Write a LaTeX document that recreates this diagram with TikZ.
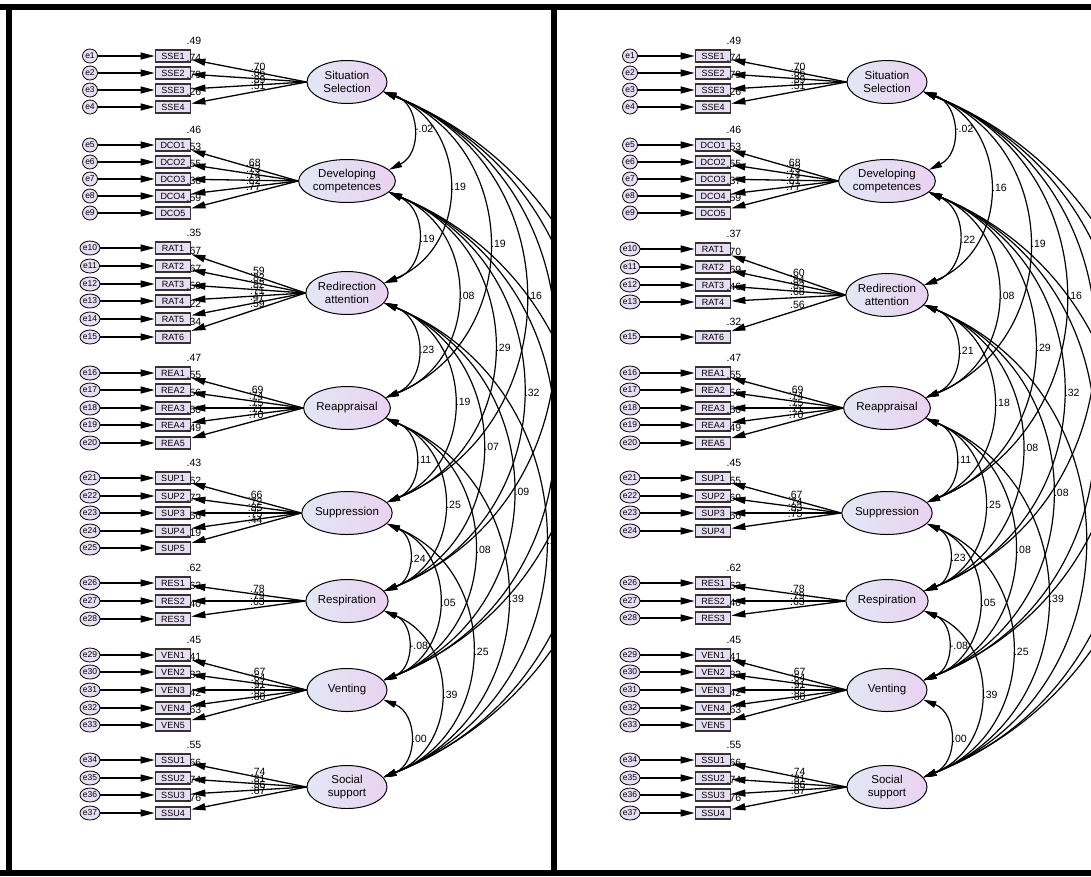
\documentclass[tikz,border=0pt]{standalone}
\usepackage{fontspec}
\setmainfont{Liberation Sans}
\usetikzlibrary{shapes.geometric,arrows.meta,positioning}
\definecolor{semlilac}{RGB}{232,222,244}
\definecolor{semblue}{RGB}{226,231,245}
\definecolor{semmauve}{RGB}{234,210,240}
\tikzset{
  err/.style={ellipse, draw=black, line width=0.8pt, fill=semlilac,
    minimum width=15pt, minimum height=14pt, inner sep=0pt,
    font=\fontsize{8.5}{9}\selectfont},
  obs/.style={rectangle, draw=black!80, line width=1.8pt, fill=semlilac,
    minimum width=35pt, minimum height=12.5pt, inner sep=0pt,
    font=\fontsize{9}{9}\selectfont},
  lat/.style={ellipse, draw=black, line width=1pt, left color=semblue,
    right color=semmauve, minimum width=80pt, minimum height=43pt,
    inner sep=0pt, align=center, font=\fontsize{11.5}{12.5}\selectfont},
  errarrow/.style={line width=1.3pt, -{Triangle[length=14pt,width=7pt]}},
  loadarrow/.style={line width=1.3pt, -{Triangle[length=14pt,width=7pt]}},
  cov/.style={line width=1.2pt,
    {Triangle[length=13pt,width=6.5pt]}-{Triangle[length=13pt,width=6.5pt]}},
  sqmc/.style={anchor=south west, inner sep=0pt, font=\fontsize{10.5}{10.5}\selectfont},
  loadlbl/.style={pos=0.42, above, inner sep=1pt, font=\fontsize{10.5}{10.5}\selectfont},
  covlbl/.style={midway, right, inner sep=2pt, font=\fontsize{10.5}{10.5}\selectfont},
  covbend/.style={bend left=68, looseness=1.25},
  panelframe/.style={line width=6pt, black}
}
% one indicator: x offset, y, box name, box text, error text, R2, latent, loading
\newcommand{\indic}[8]{%
  \node[err] (#3e) at ({#1+90},-#2) {#5};
  \node[obs] (#3) at ({#1+173},-#2) {#4};
  \node[sqmc] at ([xshift=-5pt,yshift=4pt]#3.north east) {#6};
  \draw[errarrow] (#3e) -- (#3);
  \draw[loadarrow] (#7.west) -- (#3) node[loadlbl] {#8};
}

\begin{document}
\begin{tikzpicture}[x=1pt,y=1pt]
  \useasboundingbox (0,0) rectangle (1091,-876);

  % latent factors, left panel
  \node[lat] (LSS) at (347,-82)  {Situation\\Selection};
  \node[lat] (LDC) at (347,-181) {Developing\\competences};
  \node[lat] (LRA) at (347,-293) {Redirection\\attention};
  \node[lat] (LRE) at (347,-408) {Reappraisal};
  \node[lat] (LSU) at (347,-513) {Suppression};
  \node[lat] (LRS) at (347,-601) {Respiration};
  \node[lat] (LVE) at (347,-690) {Venting};
  \node[lat] (LSO) at (347,-787) {Social\\support};

  % latent factors, right panel
  \node[lat] (RSS) at (887,-82)  {Situation\\Selection};
  \node[lat] (RDC) at (887,-181) {Developing\\competences};
  \node[lat] (RRA) at (887,-295) {Redirection\\attention};
  \node[lat] (RRE) at (887,-408) {Reappraisal};
  \node[lat] (RSU) at (887,-513) {Suppression};
  \node[lat] (RRS) at (887,-601) {Respiration};
  \node[lat] (RVE) at (887,-690) {Venting};
  \node[lat] (RSO) at (887,-787) {Social\\support};

  % indicators, left panel
  \foreach \bx/\yy/\ee/\rr/\ll in {SSE1/56/e1/.49/.70, SSE2/73/e2/.74/.86,
      SSE3/90/e3/.79/.89, SSE4/107/e4/.26/.51}
    \indic{0}{\yy}{L\bx}{\bx}{\ee}{\rr}{LSS}{\ll};
  \foreach \bx/\yy/\ee/\rr/\ll in {DCO1/145/e5/.46/.68, DCO2/162/e6/.53/.73,
      DCO3/179/e7/.55/.74, DCO4/196/e8/.38/.62, DCO5/213/e9/.59/.77}
    \indic{0}{\yy}{L\bx}{\bx}{\ee}{\rr}{LDC}{\ll};
  \foreach \bx/\yy/\ee/\rr/\ll in {RAT1/248/e10/.35/.59, RAT2/266/e11/.67/.82,
      RAT3/284/e12/.67/.82, RAT4/301/e13/.50/.71, RAT5/319/e14/.22/.47,
      RAT6/337/e15/.34/.59}
    \indic{0}{\yy}{L\bx}{\bx}{\ee}{\rr}{LRA}{\ll};
  \foreach \bx/\yy/\ee/\rr/\ll in {REA1/373/e16/.47/.69, REA2/390/e17/.55/.74,
      REA3/408/e18/.56/.75, REA4/425/e19/.50/.71, REA5/443/e20/.49/.70}
    \indic{0}{\yy}{L\bx}{\bx}{\ee}{\rr}{LRE}{\ll};
  \foreach \bx/\yy/\ee/\rr/\ll in {SUP1/478/e21/.43/.66, SUP2/496/e22/.52/.72,
      SUP3/513/e23/.72/.85, SUP4/531/e24/.56/.75, SUP5/548/e25/.19/.44}
    \indic{0}{\yy}{L\bx}{\bx}{\ee}{\rr}{LSU}{\ll};
  \foreach \bx/\yy/\ee/\rr/\ll in {RES1/583/e26/.62/.78, RES2/601/e27/.63/.79,
      RES3/619/e28/.40/.63}
    \indic{0}{\yy}{L\bx}{\bx}{\ee}{\rr}{LRS}{\ll};
  \foreach \bx/\yy/\ee/\rr/\ll in {VEN1/655/e29/.45/.67, VEN2/672/e30/.41/.64,
      VEN3/690/e31/.83/.91, VEN4/708/e32/.42/.65, VEN5/725/e33/.63/.80}
    \indic{0}{\yy}{L\bx}{\bx}{\ee}{\rr}{LVE}{\ll};
  \foreach \bx/\yy/\ee/\rr/\ll in {SSU1/760/e34/.55/.74, SSU2/778/e35/.66/.81,
      SSU3/795/e36/.74/.86, SSU4/813/e37/.76/.87}
    \indic{0}{\yy}{L\bx}{\bx}{\ee}{\rr}{LSO}{\ll};

  % indicators, right panel (RAT5 and SUP5 dropped)
  \foreach \bx/\yy/\ee/\rr/\ll in {SSE1/56/e1/.49/.70, SSE2/73/e2/.74/.86,
      SSE3/90/e3/.79/.89, SSE4/107/e4/.26/.51}
    \indic{540}{\yy}{R\bx}{\bx}{\ee}{\rr}{RSS}{\ll};
  \foreach \bx/\yy/\ee/\rr/\ll in {DCO1/145/e5/.46/.68, DCO2/162/e6/.53/.73,
      DCO3/179/e7/.55/.74, DCO4/196/e8/.37/.61, DCO5/213/e9/.59/.77}
    \indic{540}{\yy}{R\bx}{\bx}{\ee}{\rr}{RDC}{\ll};
  \foreach \bx/\yy/\ee/\rr/\ll in {RAT1/249/e10/.37/.60, RAT2/267/e11/.70/.84,
      RAT3/285/e12/.69/.83, RAT4/302/e13/.46/.68, RAT6/337/e15/.32/.56}
    \indic{540}{\yy}{R\bx}{\bx}{\ee}{\rr}{RRA}{\ll};
  \foreach \bx/\yy/\ee/\rr/\ll in {REA1/373/e16/.47/.69, REA2/390/e17/.55/.74,
      REA3/408/e18/.56/.75, REA4/425/e19/.50/.71, REA5/443/e20/.49/.70}
    \indic{540}{\yy}{R\bx}{\bx}{\ee}{\rr}{RRE}{\ll};
  \foreach \bx/\yy/\ee/\rr/\ll in {SUP1/478/e21/.45/.67, SUP2/496/e22/.55/.74,
      SUP3/513/e23/.69/.83, SUP4/531/e24/.56/.75}
    \indic{540}{\yy}{R\bx}{\bx}{\ee}{\rr}{RSU}{\ll};
  \foreach \bx/\yy/\ee/\rr/\ll in {RES1/583/e26/.62/.78, RES2/601/e27/.63/.79,
      RES3/618/e28/.40/.63}
    \indic{540}{\yy}{R\bx}{\bx}{\ee}{\rr}{RRS}{\ll};
  \foreach \bx/\yy/\ee/\rr/\ll in {VEN1/655/e29/.45/.67, VEN2/672/e30/.41/.64,
      VEN3/690/e31/.83/.91, VEN4/708/e32/.42/.65, VEN5/725/e33/.63/.80}
    \indic{540}{\yy}{R\bx}{\bx}{\ee}{\rr}{RVE}{\ll};
  \foreach \bx/\yy/\ee/\rr/\ll in {SSU1/760/e34/.55/.74, SSU2/778/e35/.66/.81,
      SSU3/795/e36/.74/.86, SSU4/813/e37/.76/.87}
    \indic{540}{\yy}{R\bx}{\bx}{\ee}{\rr}{RSO}{\ll};

  % covariances, left panel (cut at the divider)
  \begin{scope}
    \clip (12,-10) rectangle (551,-870);
    \foreach \a/\b/\v in {SS/DC/-.02, SS/RA/.19, SS/RE/.19, SS/SU/.16,
        SS/RS/{}, SS/VE/{}, SS/SO/{},
        DC/RA/.19, DC/RE/.08, DC/SU/.29, DC/RS/.32, DC/VE/{}, DC/SO/{},
        RA/RE/.23, RA/SU/.19, RA/RS/.07, RA/VE/.09, RA/SO/.2,
        RE/SU/.11, RE/RS/.25, RE/VE/.08, RE/SO/.39,
        SU/RS/.24, SU/VE/.05, SU/SO/.25,
        RS/VE/-.08, RS/SO/.39, VE/SO/.00}
      \draw[cov] (L\a.-15) to[covbend] node[covlbl] {\v} (L\b.15);
  \end{scope}

  % covariances, right panel (cut at the page edge)
  \begin{scope}
    \clip (557,-10) rectangle (1091,-870);
    \foreach \a/\b/\v in {SS/DC/-.02, SS/RA/.16, SS/RE/.19, SS/SU/.16,
        SS/RS/{}, SS/VE/{}, SS/SO/{},
        DC/RA/.22, DC/RE/.08, DC/SU/.29, DC/RS/.32, DC/VE/{}, DC/SO/{},
        RA/RE/.21, RA/SU/.18, RA/RS/.08, RA/VE/.08, RA/SO/{},
        RE/SU/.11, RE/RS/.25, RE/VE/.08, RE/SO/.39,
        SU/RS/.23, SU/VE/.05, SU/SO/.25,
        RS/VE/-.08, RS/SO/.39, VE/SO/.00}
      \draw[cov] (R\a.-15) to[covbend] node[covlbl] {\v} (R\b.15);
  \end{scope}

  % panel frames
  \draw[panelframe] (0,-7) -- (1091,-7);
  \draw[panelframe] (0,-873) -- (1091,-873);
  \draw[panelframe] (9,-4) -- (9,-876);
  \draw[panelframe] (554,-4) -- (554,-876);
\end{tikzpicture}
\end{document}
